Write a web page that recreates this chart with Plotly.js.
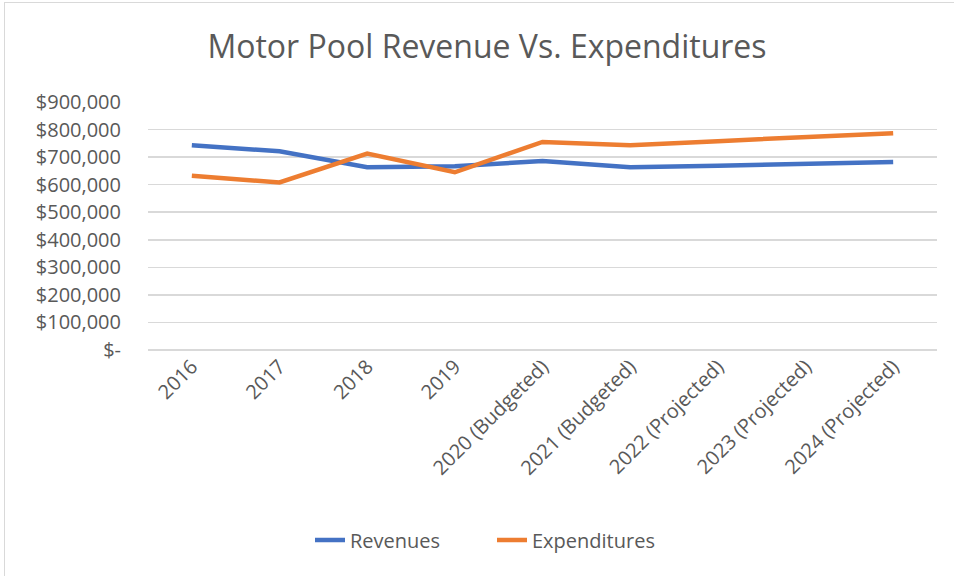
<!DOCTYPE html>
<html>
<head>
<meta charset="utf-8">
<script src="https://cdn.plot.ly/plotly-3.0.1.min.js"></script>
<style>
html,body{margin:0;padding:0;background:#fff;}
#wrap{position:relative;width:954px;height:576px;}
#chart{width:954px;height:576px;}
#frame{position:absolute;left:4px;top:2px;width:960px;height:600px;border-left:1.5px solid #d9d9d9;border-top:1.5px solid #d9d9d9;pointer-events:none;}
</style>
</head>
<body>
<div id="wrap"><div id="chart"></div><div id="frame"></div></div>
<script>
const categories = ["2016","2017","2018","2019","2020 (Budgeted)","2021 (Budgeted)","2022 (Projected)","2023 (Projected)","2024 (Projected)"];
const revenues = [743000, 721000, 663000, 667000, 686000, 663000, 669000, 675000, 682000];
const expenditures = [632000, 608000, 713000, 645000, 755000, 743000, 758000, 772000, 787000];
const yTickVals = [0,100000,200000,300000,400000,500000,600000,700000,800000,900000];
const yTickText = ["$-","$100,000","$200,000","$300,000","$400,000","$500,000","$600,000","$700,000","$800,000","$900,000"];

const font = "'Open Sans', 'Noto Sans', sans-serif";
const grey = "#595959";

const traces = [
  {x: categories, y: revenues, name: "Revenues", type: "scatter", mode: "lines",
   line: {color: "#4472C4", width: 4.5}},
  {x: categories, y: expenditures, name: "Expenditures", type: "scatter", mode: "lines",
   line: {color: "#ED7D31", width: 4.5}}
];

const layout = {
  width: 954, height: 576,
  margin: {l: 148, r: 17, t: 102, b: 226},
  paper_bgcolor: "#fff", plot_bgcolor: "#fff",
  title: {text: "Motor Pool Revenue Vs. Expenditures", font: {family: font, size: 32, color: grey},
          x: 487/954, xref: "container", xanchor: "center", y: 1 - 47/576, yref: "container", yanchor: "middle"},
  xaxis: {type: "category", tickangle: -45, tickfont: {family: font, size: 20, color: grey},
          showgrid: false, showline: false, zeroline: false, ticks: "", range: [-0.5, 8.5]},
  yaxis: {range: [0, 900000], tickvals: yTickVals, ticktext: yTickText,
          tickfont: {family: font, size: 20, color: grey}, gridcolor: "#d9d9d9", gridwidth: 1.5,
          zeroline: true, zerolinecolor: "#d9d9d9", zerolinewidth: 1.5, showline: false,
          ticks: "", ticklabelstandoff: 26},
  showlegend: true,
  legend: {orientation: "h", x: 492/954, xref: "container", xanchor: "center",
           y: 1 - 540/576, yref: "container", yanchor: "middle",
           font: {family: font, size: 20, color: grey}, itemwidth: 30, tracegroupgap: 0,
           entrywidth: 137, entrywidthmode: "pixels"},
  hovermode: false
};

Plotly.newPlot("chart", traces, layout, {displayModeBar: false, staticPlot: true});
</script>
</body>
</html>
